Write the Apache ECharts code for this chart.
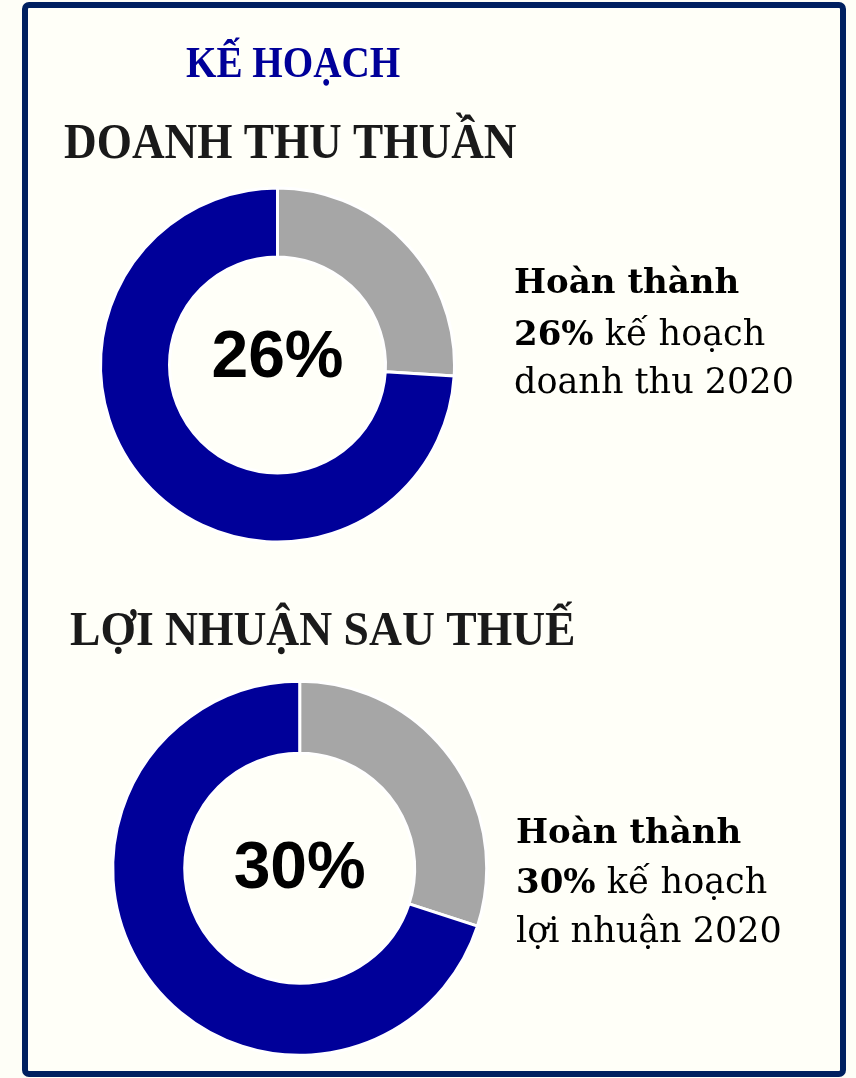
<!DOCTYPE html>
<html>
<head>
<meta charset="utf-8">
<script src="https://cdn.jsdelivr.net/npm/echarts@6/dist/echarts.min.js"></script>
<style>
html,body{margin:0;padding:0;background:#fefef7;}
#chart{width:856px;height:1078px;}
</style>
</head>
<body>
<div id="chart"></div>
<script>
// Data
var categories = ['Hoàn thành', 'Còn lại'];
var revenueValues = [26, 74];
var profitValues = [30, 70];
var mainTitle = 'KẾ HOẠCH';
var revenueTitle = 'DOANH THU THUẦN';
var profitTitle = 'LỢI NHUẬN SAU THUẾ';
var revenueNote = ['Hoàn thành', 'kế hoạch', 'doanh thu 2020'];
var profitNote = ['Hoàn thành', 'kế hoạch', 'lợi nhuận 2020'];

var NAVY = '#000099';
var GREY = '#a6a6a6';
var colors = [GREY, NAVY];

function pieData(vals) {
  return vals.map(function (v, i) {
    var d = { name: categories[i], value: v, itemStyle: { color: colors[i] } };
    if (i === 0) {
      d.label = { show: true };
    }
    return d;
  });
}

function pieSeries(vals, center, radius, dy) {
  return {
    type: 'pie',
    center: center,
    radius: radius,
    startAngle: 90,
    clockwise: true,
    silent: true,
    animation: false,
    avoidLabelOverlap: false,
    itemStyle: { borderColor: '#ffffff', borderWidth: 3 },
    label: {
      show: false,
      position: 'center',
      formatter: '{c}%',
      color: '#000000',
      fontFamily: 'Liberation Sans, Arial, sans-serif',
      fontWeight: 'bold',
      fontSize: 66
    },
    labelLayout: { dy: dy },
    labelLine: { show: false },
    emphasis: { disabled: true },
    data: pieData(vals)
  };
}

function headText(text, x, y, size, color, sx) {
  return {
    type: 'text',
    x: x, y: y,
    scaleX: sx,
    style: {
      text: text,
      fill: color,
      font: 'bold ' + size + 'px "Liberation Serif", "Times New Roman", serif',
      verticalAlign: 'middle',
      align: 'left'
    }
  };
}

var noteFont = '"DejaVu Serif", serif';
function noteBlock(lines, pct, x, ys) {
  return [
    {
      type: 'text', x: x, y: ys[0],
      style: { text: lines[0], fill: '#000', font: 'bold 34px ' + noteFont, verticalAlign: 'middle' }
    },
    {
      type: 'text', x: x, y: ys[1],
      style: {
        text: '{b|' + pct + '%}{n|\u00a0' + lines[1] + '}',
        verticalAlign: 'middle',
        rich: {
          b: { fill: '#000', fontFamily: noteFont, fontWeight: 'bold', fontSize: 34 },
          n: { fill: '#000', fontFamily: noteFont, fontSize: 35 }
        }
      }
    },
    {
      type: 'text', x: x, y: ys[2],
      style: { text: lines[2], fill: '#000', font: '35px ' + noteFont, verticalAlign: 'middle' }
    }
  ];
}

var chart = echarts.init(document.getElementById('chart'));
var graphics = [
  {
    type: 'rect',
    shape: { x: 25, y: 5, width: 818, height: 1069, r: 4 },
    style: { fill: '#fffff8', stroke: '#002060', lineWidth: 6 },
    z: -10
  },
  headText(mainTitle, 186, 65, 45, NAVY, 0.87),
  headText(revenueTitle, 64, 145, 50, '#1a1a1a', 0.905),
  headText(profitTitle, 70, 633, 48, '#1a1a1a', 0.95)
].concat(noteBlock(revenueNote, revenueValues[0], 514, [284, 336, 384]))
 .concat(noteBlock(profitNote, profitValues[0], 516, [834, 884, 933]));

chart.setOption({
  backgroundColor: '#fefef7',
  animation: false,
  graphic: graphics,
  series: [
    pieSeries(revenueValues, [277.5, 365], [108, 177], -6),
    pieSeries(profitValues, [299.7, 868.3], [115, 187], 1)
  ]
});
</script>
</body>
</html>
